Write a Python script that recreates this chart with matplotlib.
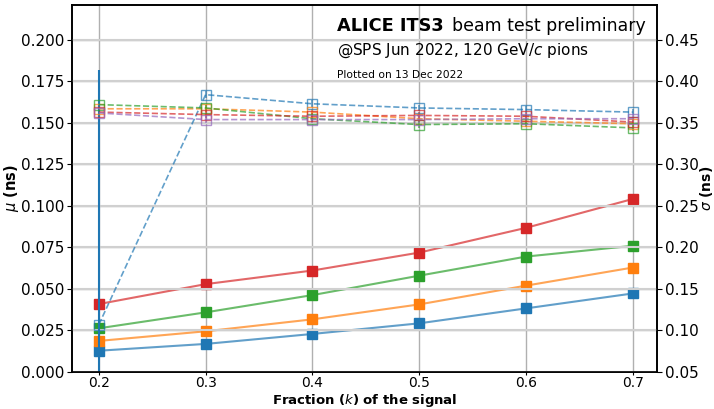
import numpy as np
import matplotlib
matplotlib.use("Agg")
from matplotlib import pyplot as plt

# fraction of the signal
frac = [0.2, 0.3, 0.4, 0.5, 0.6, 0.7]

# mean (left axis, solid)
mu_blue = [0.0128, 0.0169, 0.0229, 0.0293, 0.0383, 0.0473]
mu_orange = [0.0187, 0.0245, 0.0317, 0.0407, 0.0520, 0.0629]
mu_green = [0.0263, 0.0359, 0.0463, 0.0580, 0.0695, 0.0760]
mu_red = [0.0409, 0.0529, 0.0611, 0.0719, 0.0868, 0.1042]

# sigma (right axis, dashed)
sig_blue = [0.107, 0.384, 0.373, 0.368, 0.366, 0.363]
sig_orange = [0.367, 0.367, 0.363, 0.355, 0.352, 0.349]
sig_green = [0.372, 0.368, 0.355, 0.348, 0.349, 0.344]
sig_red = [0.363, 0.360, 0.358, 0.359, 0.358, 0.351]
sig_purple = [0.362, 0.354, 0.354, 0.354, 0.355, 0.355]
sig_blue_err = [0.307, 0.004, 0.004, 0.004, 0.004, 0.004]
sig_err = [0.004] * 6

fig = plt.figure(figsize=(7.14, 4.09), dpi=100)
ax = fig.add_axes([0.101, 0.0905, 0.819, 0.8973])
ax2 = ax.twinx()

mus = [(mu_blue, "tab:blue"), (mu_orange, "tab:orange"),
       (mu_green, "tab:green"), (mu_red, "tab:red")]
for vals, c in mus:
    ax.plot(frac, vals, "-", color=c, alpha=0.7, lw=1.5, zorder=3)
    ax.plot(frac, vals, "s", color=c, ms=7, zorder=4)

sigs = [(sig_blue, sig_blue_err, "tab:blue"), (sig_orange, sig_err, "tab:orange"),
        (sig_green, sig_err, "tab:green"), (sig_red, sig_err, "tab:red"),
        (sig_purple, sig_err, "tab:purple")]
for vals, err, c in sigs:
    ax2.errorbar(frac, vals, yerr=err, fmt="s--", color=c, mfc="none",
                 ms=7, lw=1.2, alpha=0.7, elinewidth=1.2)
# full opacity for the big blue error bar
ax2.errorbar(frac[:1], sig_blue[:1], yerr=sig_blue_err[:1], fmt="none",
             ecolor="tab:blue", elinewidth=1.5)

ax.set_xlim(0.175, 0.7225)
ax.set_ylim(0.0, 0.221)
ax2.set_ylim(0.05, 0.492)
ax.set_xticks(frac)
ax.set_yticks(np.arange(0, 0.201, 0.025))
ax2.set_yticks(np.arange(0.05, 0.451, 0.05))
ax.yaxis.set_major_formatter(matplotlib.ticker.FormatStrFormatter("%.3f"))
ax2.yaxis.set_major_formatter(matplotlib.ticker.FormatStrFormatter("%.2f"))
ax.tick_params(labelsize=11, pad=2)
ax.tick_params(axis="x", pad=0.5, length=2.5, labelsize=10)
ax2.tick_params(labelsize=11, pad=2)

ax.grid(True, color="#b0b0b0", lw=1.0)
ax2.grid(True, axis="y", color="#d0d0d0", lw=1.5)
ax.set_axisbelow(True)
ax2.set_axisbelow(True)
for a in (ax, ax2):
    for s in a.spines.values():
        s.set_linewidth(1.2)

ax.set_xlabel("Fraction ($k$) of the signal", fontsize=9.5, fontweight="bold")
ax.xaxis.set_label_coords(0.5, -0.055)
ax.set_ylabel("$\\mu$ (ns)", fontsize=10.5, fontweight="bold", labelpad=0)
ax2.set_ylabel("$\\sigma$ (ns)", fontsize=10, fontweight="bold", labelpad=0)

fig.text(0.472, 0.925, "ALICE ITS3", fontsize=12.8, fontweight="bold")
fig.text(0.633, 0.925, "beam test preliminary", fontsize=12.5)
fig.text(0.472, 0.865, "@SPS Jun 2022, 120 GeV/$c$ pions", fontsize=11)
fig.text(0.472, 0.81, "Plotted on 13 Dec 2022", fontsize=7.7)

fig.savefig("out.png", dpi=100)
